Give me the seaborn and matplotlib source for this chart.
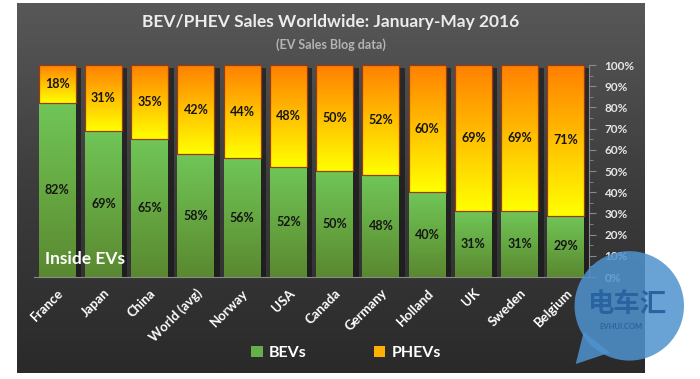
import numpy as np
import pandas as pd
import seaborn as sns
import matplotlib.pyplot as plt
import matplotlib.patheffects as pe
from matplotlib.colors import LinearSegmentedColormap
from matplotlib.patches import Circle, Polygon, Patch, Rectangle
from matplotlib.ticker import MultipleLocator, PercentFormatter

# data (share of plug-in sales, %)
countries = ["France", "Japan", "China", "World (avg)", "Norway", "USA",
             "Canada", "Germany", "Holland", "UK", "Sweden", "Belgium"]
bev = [82, 69, 65, 58, 56, 52, 50, 48, 40, 31, 31, 29]
phev = [18, 31, 35, 42, 44, 48, 50, 52, 60, 69, 69, 71]

df = pd.DataFrame({"Country": countries, "BEV": bev, "PHEV": phev})
df["Total"] = df["BEV"] + df["PHEV"]

sns.set_style("white")
plt.rcParams["font.family"] = ["Lato", "DejaVu Sans"]

W, H = 700, 379
fig = plt.figure(figsize=(W / 100, H / 100), dpi=100)
fig.patch.set_facecolor("white")

# dark gradient background panel
bg = fig.add_axes([17 / W, 1 - 373 / H, (645 - 17) / W, (373 - 3) / H], zorder=-10)
bg_cmap = LinearSegmentedColormap.from_list("bg", ["#2a2a2a", "#3c3c3c", "#585858"])
bg.imshow(np.linspace(0, 1, 256).reshape(-1, 1), cmap=bg_cmap, origin="lower",
          aspect="auto", extent=[0, 1, 0, 1])
bg.axis("off")

ax = fig.add_axes([34 / W, 1 - 277 / H, (589 - 34) / W, (277 - 65) / H], zorder=1)
ax.set_facecolor("none")

# PHEV = full stack, BEV drawn on top
sns.barplot(data=df, x="Country", y="Total", color="#ffc000", width=0.8,
            saturation=1, ax=ax)
n_phev = len(ax.patches)
sns.barplot(data=df, x="Country", y="BEV", color="#66b04a", width=0.8,
            saturation=1, ax=ax)
phev_bars = ax.patches[:n_phev]
bev_bars = ax.patches[n_phev:]

green = LinearSegmentedColormap.from_list("g", ["#5a8830", "#66a842", "#70c658"])
orange = LinearSegmentedColormap.from_list("o", ["#ffff00", "#ffc000", "#ff8000"])
grad = np.linspace(0, 1, 128).reshape(-1, 1)

shadow = [pe.SimplePatchShadow(offset=(4, -2), shadow_rgbFace="#111111", alpha=0.6),
          pe.Normal()]

for bars, cmap, base, edge in [(phev_bars, orange, None, "#9c3a10"),
                               (bev_bars, green, "BEV", None)]:
    for p, b in zip(bars, bev):
        x0, w = p.get_x(), p.get_width()
        y1 = p.get_y() + p.get_height()
        y0 = b if base is None else 0
        if base is None:
            p.set_path_effects(shadow)
        p.set_edgecolor("none")
        im = ax.imshow(grad, cmap=cmap, origin="lower", aspect="auto",
                       extent=[x0, x0 + w, y0, y1], zorder=2)
        im.set_clip_path(p)
        if edge:
            ax.add_patch(Rectangle((x0, y0), w, y1 - y0, fill=False,
                                   edgecolor=edge, lw=0.9, zorder=3))

# value labels
for i, (b, p) in enumerate(zip(bev, phev)):
    ax.text(i, b / 2, f"{b}%", ha="center", va="center", fontsize=9,
            fontweight="bold", color="#151515", zorder=4)
    ax.text(i, b + p / 2, f"{p}%", ha="center", va="center", fontsize=9,
            fontweight="bold", color="#151515", zorder=4)

ax.set_xlim(-0.5, len(countries) - 0.5)
ax.set_ylim(0, 100)
ax.set_xlabel("")
ax.set_ylabel("")

# axes styling
ax.yaxis.tick_right()
ax.yaxis.set_major_locator(MultipleLocator(10))
ax.yaxis.set_minor_locator(MultipleLocator(5))
ax.yaxis.set_major_formatter(PercentFormatter(decimals=0))
ax.tick_params(axis="y", which="major", length=5, color="#8a8a8a", direction="out",
               labelsize=8.5, labelcolor="#e6e6e6", pad=6)
ax.tick_params(axis="y", which="minor", length=3, color="#8a8a8a", direction="out")
for lab in ax.get_yticklabels():
    lab.set_fontweight("bold")

ax.set_xticks(range(len(countries)))
ax.set_xticks(np.arange(-0.5, len(countries)), minor=True)
ax.tick_params(axis="x", which="major", length=0, pad=7)
ax.tick_params(axis="x", which="minor", length=5, color="#8a8a8a", direction="out")
ax.set_xticklabels(countries, rotation=45, ha="right", rotation_mode="anchor",
                   fontsize=9.5, fontweight="bold", color="white")

for s in ["top", "left"]:
    ax.spines[s].set_visible(False)
ax.spines["bottom"].set_color("#8a8a8a")
ax.spines["right"].set_color("#8a8a8a")
ax.spines["bottom"].set_linewidth(0.8)
ax.spines["right"].set_linewidth(0.8)

# titles
fig.text(331 / W, 1 - 22 / H, "BEV/PHEV Sales Worldwide: January-May 2016",
         ha="center", va="center", fontsize=12.5, fontweight="bold", color="#ececec")
fig.text(331 / W, 1 - 45 / H, "(EV Sales Blog data)", ha="center", va="center",
         fontsize=9, fontweight="bold", color="#b4b4b4")

# watermark
ax.text(0.02, 0.06, "Inside EVs", transform=ax.transAxes, fontsize=12.5,
        fontweight="bold", color="white", zorder=5)

# legend
handles = [Patch(facecolor="#66b04a", edgecolor="none", label="BEVs"),
           Patch(facecolor="#ffb000", edgecolor="none", label="PHEVs")]
leg = fig.legend(handles=handles, loc="center", bbox_to_anchor=(346 / W, 1 - 353 / H),
                 ncol=2, frameon=False, handlelength=0.7, handleheight=0.7,
                 handletextpad=0.4, columnspacing=4.2,
                 prop={"size": 11.5, "weight": "bold"})
for t in leg.get_texts():
    t.set_color("white")

# logo bubble
lg = fig.add_axes([570 / W, 1 - 364 / H, 114 / W, 114 / H], zorder=6)
lg.set_xlim(0, 1)
lg.set_ylim(0, 1)
lg.axis("off")
lg.add_patch(Polygon([[0.12, 0.28], [0.05, 0.0], [0.35, 0.1]], closed=True,
                     facecolor="#4f93cf", alpha=0.85, edgecolor="none"))
lg.add_patch(Circle((0.52, 0.51), 0.48, facecolor="#4f93cf", alpha=0.85,
                    edgecolor="none"))
lg.text(0.5, 0.52, "电车汇", ha="center", va="center", fontsize=19,
        fontweight="bold", color="#2a64a0", family=["Noto Sans CJK SC", "DejaVu Sans"])
lg.text(0.45, 0.33, "EVHUI.COM", ha="center", va="center", fontsize=5.5,
        fontweight="bold", color="#2a64a0")

fig.savefig("out.png", dpi=100)
